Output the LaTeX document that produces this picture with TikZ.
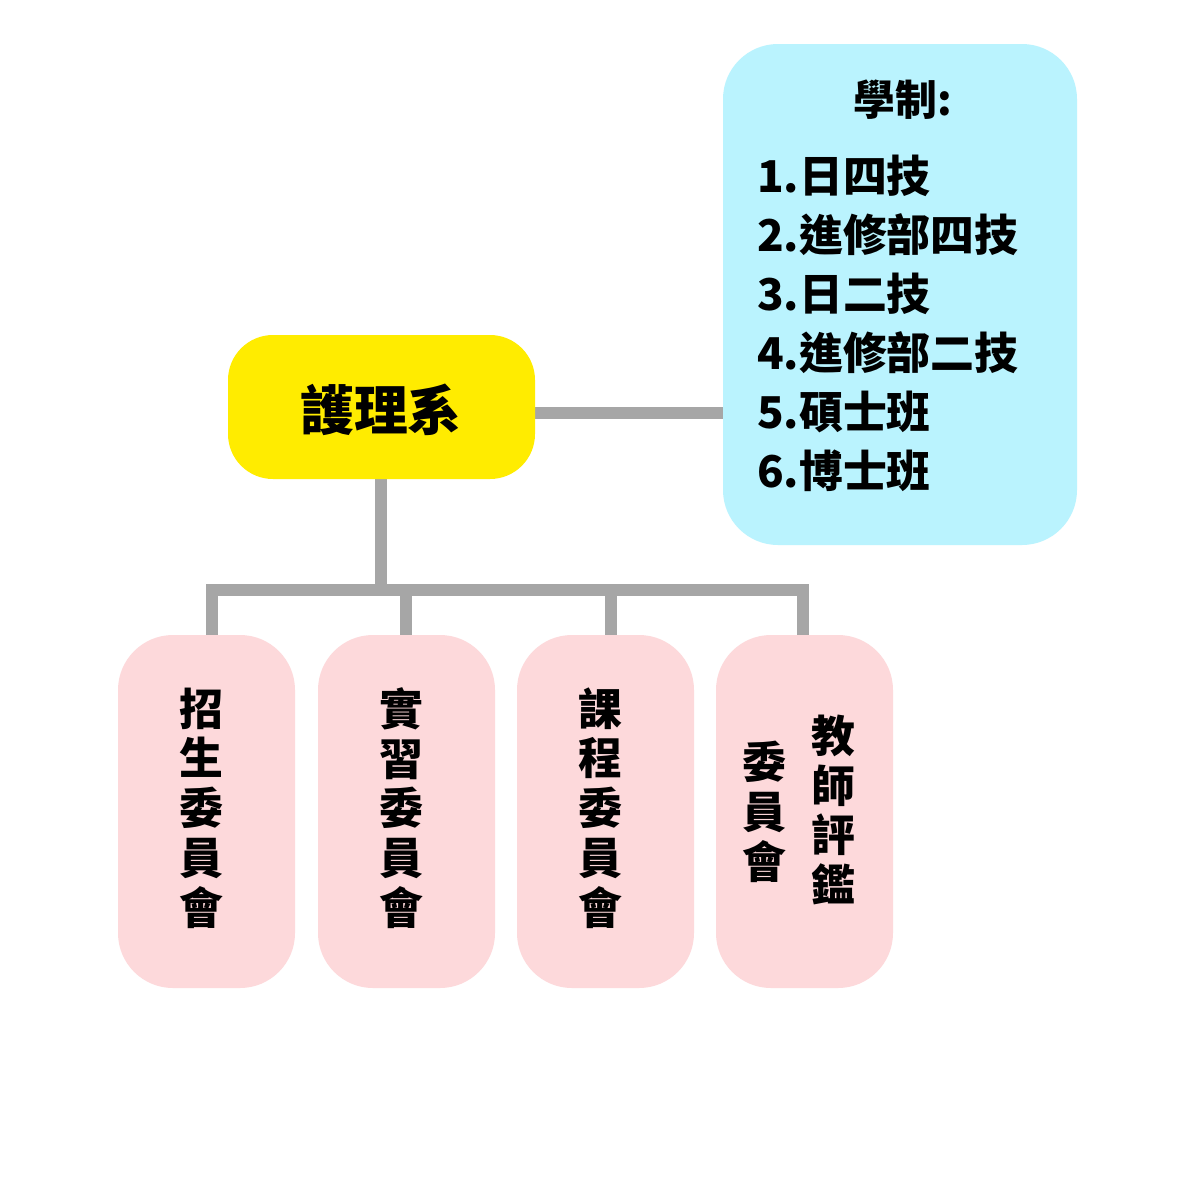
\documentclass[tikz,border=0pt]{standalone}
\usepackage{fontspec}
\newfontfamily\cjk{Noto Sans CJK TC}
\definecolor{gl}{HTML}{A6A6A6}
\definecolor{yb}{HTML}{FFEC00}
\definecolor{bb}{HTML}{BAF3FE}
\definecolor{pb}{HTML}{FDD9DB}
\begin{document}
\begin{tikzpicture}[x=1bp,y=-1bp,
  ln/.style={draw=gl,line width=12bp},
  pk/.style={fill=pb,rounded corners=55bp},
  vt/.style={font=\cjk\bfseries\fontsize{44}{50}\selectfont,align=center,inner sep=0}]
\useasboundingbox[fill=white] (0,0) rectangle (1181,1181);
\coordinate (ya) at (381,479); \coordinate (yr) at (535,413); \coordinate (bl) at (723,413);
\coordinate (bus) at (381,590);
\draw[ln] (yr) -- (bl);
\draw[ln] (ya) -- (bus);
\draw[ln] (212,640) -- (212,590) -- (803,590) -- (803,640);
\draw[ln] (406,590) -- (406,640);
\draw[ln] (611,590) -- (611,640);
\fill[yb,rounded corners=45bp] (228,335) rectangle (535,479);
\node[font=\cjk\bfseries\fontsize{54}{60}\selectfont] (y) at (381,410) {護理系};
\fill[bb,rounded corners=55bp] (723,44) rectangle (1077,545);
\node[font=\cjk\bfseries\fontsize{42}{50}\selectfont] (t) at (903,100) {學制:};
\node[font=\cjk\bfseries\fontsize{44}{59.2}\selectfont,align=left,anchor=north west,inner sep=0] (lst) at (757,155)
 {1.日四技\\2.進修部四技\\3.日二技\\4.進修部二技\\5.碩士班\\6.博士班};
\fill[pk] (118,635) rectangle (295,988);
\fill[pk] (318,635) rectangle (495,988);
\fill[pk] (517,635) rectangle (694,988);
\fill[pk] (716,635) rectangle (893,988);
\node[vt] (a) at (201,808) {招\\生\\委\\員\\會};
\node[vt] (b) at (401,808) {實\\習\\委\\員\\會};
\node[vt] (c) at (600,808) {課\\程\\委\\員\\會};
\node[vt] (d) at (833,810) {教\\師\\評\\鑑};
\node[vt] (e) at (764,812) {委\\員\\會};
\end{tikzpicture}
\end{document}
